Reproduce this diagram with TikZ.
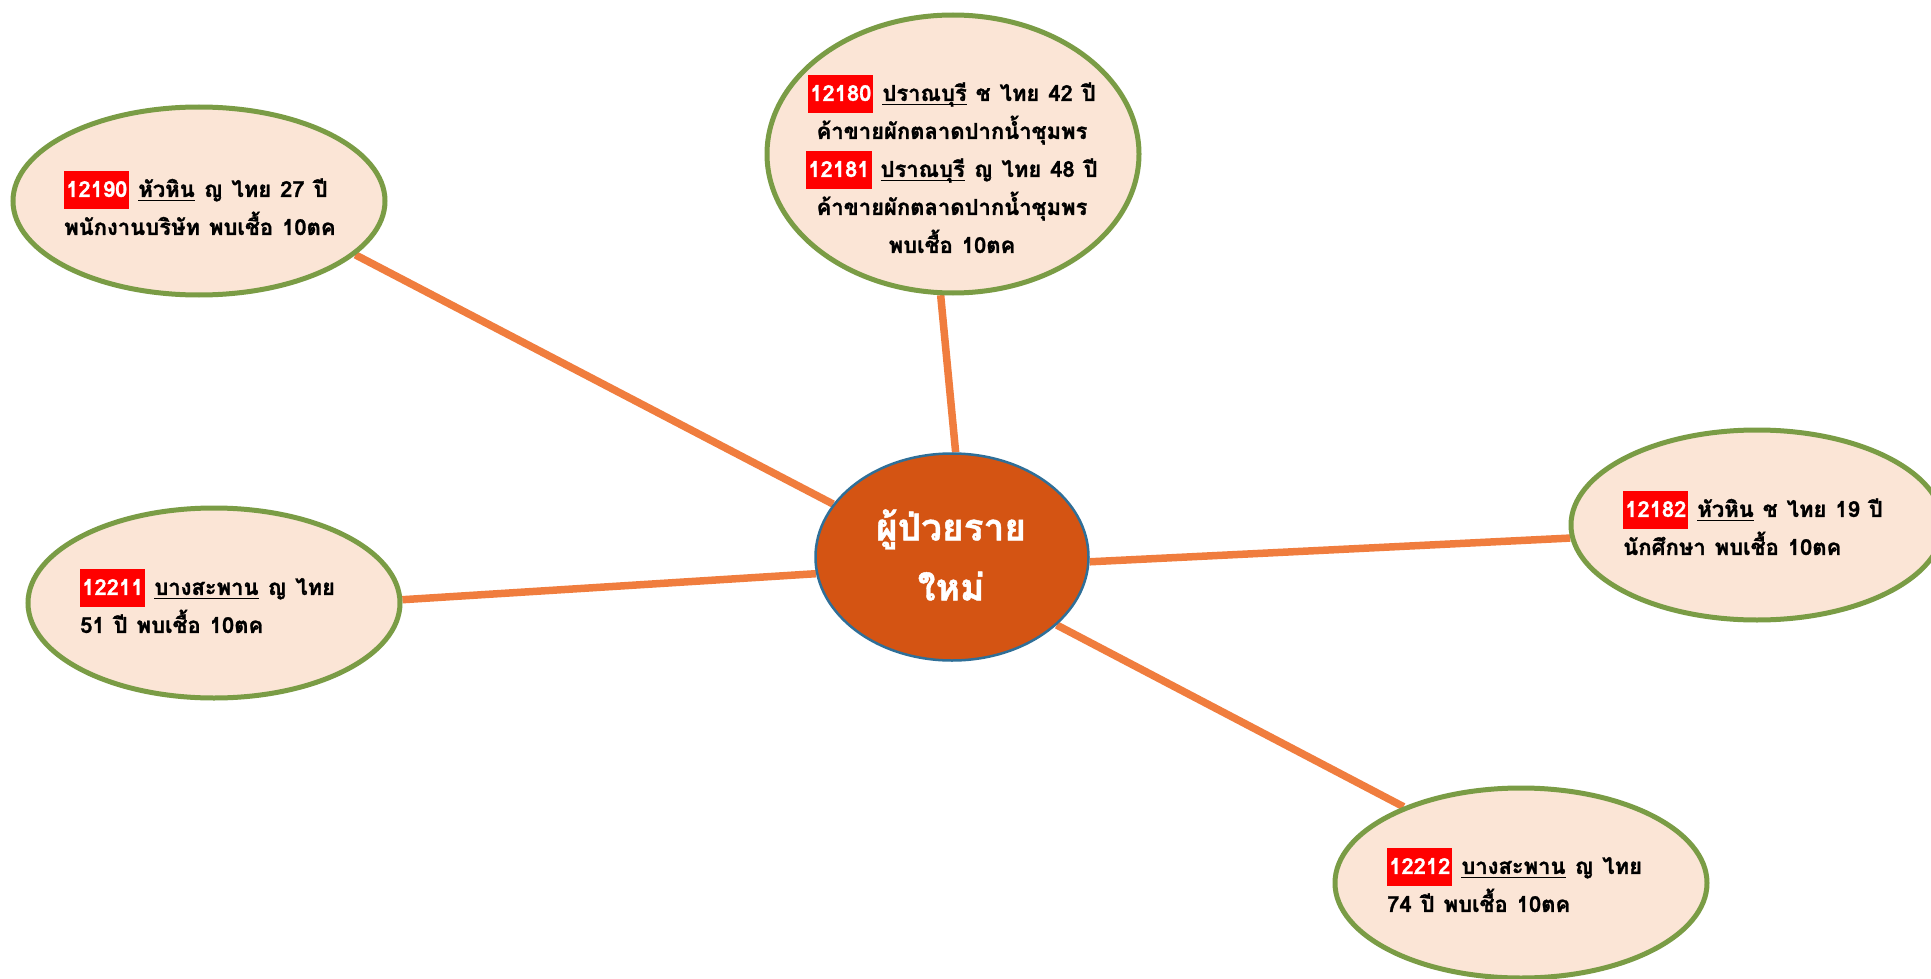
\documentclass[tikz,border=0pt]{standalone}
\usepackage{fontspec}
\setmainfont{Loma}[Script=Thai,BoldFeatures={FakeBold=1.2}]
\usetikzlibrary{shapes.geometric}
\definecolor{peach}{HTML}{FBE5D6}
\definecolor{leaf}{HTML}{7A9C45}
\definecolor{conn}{HTML}{F07D3E}
\definecolor{core}{HTML}{D45413}
\definecolor{rim}{HTML}{2F6F98}
\newcommand\caseid[1]{{\setlength\fboxsep{0pt}\colorbox{red}{\rule[-12pt]{0pt}{38pt}\hspace{2pt}\textcolor{white}{#1}\hspace{2pt}}}}
\newcommand\place[1]{\setbox0\hbox{#1}\rlap{\rule[-4pt]{\wd0}{1.3pt}}\box0\relax}
\newcommand\widespace{\setlength\spaceskip{9pt plus 1pt}}
\newcommand\bubblefont{\bfseries\fontsize{22pt}{38pt}\selectfont\widespace}
\pgfdeclarelayer{bg}
\pgfsetlayers{bg,main}
\begin{document}
\begin{tikzpicture}[x=1pt,y=-1pt,
 bubble/.style={ellipse,draw=leaf,line width=5pt,fill=peach,inner sep=0pt,minimum width=372pt,minimum height=190pt},
 hub/.style={ellipse,draw=rim,line width=2.5pt,fill=core,inner sep=0pt,minimum width=273pt,minimum height=207pt},
 link/.style={draw=conn,line width=7.5pt},
 txt/.style={inner sep=0pt,align=left,font=\bubblefont},
 hubtxt/.style={inner sep=0pt,align=center,text=white,font=\bfseries\fontsize{37pt}{60pt}\selectfont}]
\clip (0,0) rectangle (1931,979);
% nodes
\node[hub] (c) at (952,557) {};
\node[bubble,minimum height=278pt] (n1) at (953,154) {};
\node[bubble,minimum height=188pt] (n2) at (199,201) {};
\node[bubble] (n3) at (214,603) {};
\node[bubble] (n4) at (1757,525) {};
\node[bubble] (n5) at (1521,883) {};
% texts
\node[hubtxt] (ct) at (951,555) {ผู้ป่วยราย\\ใหม่};
\node[txt,align=center] (t1) at (952,164) {\caseid{12180} \place{ปราณบุรี} ช ไทย 42 ปี\\ค้าขายผักตลาดปากน้ำชุมพร\\\caseid{12181} \place{ปราณบุรี} ญ ไทย 48 ปี\\ค้าขายผักตลาดปากน้ำชุมพร\\พบเชื้อ 10ตค};
\node[txt,anchor=west] (t2) at (64,203) {\caseid{12190} \place{หัวหิน} ญ ไทย 27 ปี\\พนักงานบริษัท พบเชื้อ 10ตค};
\node[txt,anchor=west] (t3) at (80,601) {\caseid{12211} \place{บางสะพาน} ญ ไทย\\51 ปี พบเชื้อ 10ตค};
\node[txt,anchor=west] (t4) at (1623,523) {\caseid{12182} \place{หัวหิน} ช ไทย 19 ปี\\นักศึกษา พบเชื้อ 10ตค};
\node[txt,anchor=west] (t5) at (1387,880) {\caseid{12212} \place{บางสะพาน} ญ ไทย\\74 ปี พบเชื้อ 10ตค};
% connectors
\begin{pgfonlayer}{bg}
\fill[white] (0,0) rectangle (1931,979);
\draw[link] (c.88.3) -- (n1.265.5);
\draw[link] (c.156.9) -- (n2.-19.2);
\draw[link] (c.187.4) -- (n3.1.8);
\draw[link] (c.-2.9) -- (n4.184.9);
\draw[link] (c.-33.6) -- (n5.147.3);
\end{pgfonlayer}
\end{tikzpicture}
\end{document}
